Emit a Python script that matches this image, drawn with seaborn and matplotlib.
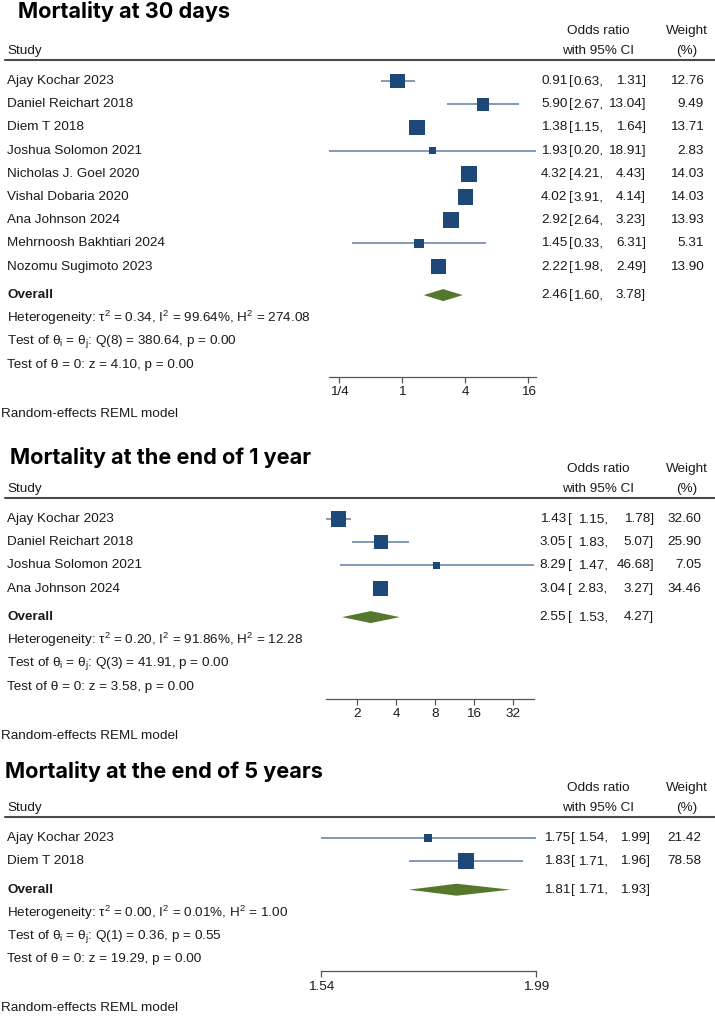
import numpy as np
import pandas as pd
import matplotlib
matplotlib.use("Agg")
import matplotlib.pyplot as plt
import seaborn as sns

# DATA
# panel 1 - mortality at 30 days
p1_studies = ["Ajay Kochar 2023", "Daniel Reichart 2018", "Diem T 2018", "Joshua Solomon 2021",
              "Nicholas J. Goel 2020", "Vishal Dobaria 2020", "Ana Johnson 2024",
              "Mehrnoosh Bakhtiari 2024", "Nozomu Sugimoto 2023"]
p1_or = [0.91, 5.90, 1.38, 1.93, 4.32, 4.02, 2.92, 1.45, 2.22]
p1_lo = [0.63, 2.67, 1.15, 0.20, 4.21, 3.91, 2.64, 0.33, 1.98]
p1_hi = [1.31, 13.04, 1.64, 18.91, 4.43, 4.14, 3.23, 6.31, 2.49]
p1_w = [12.76, 9.49, 13.71, 2.83, 14.03, 14.03, 13.93, 5.31, 13.90]
p1_overall = [2.46, 1.60, 3.78]
p1_stats = [0.34, 99.64, 274.08, 8, 380.64, 0.00, 4.10, 0.00]
p1_ticks = [0.25, 1, 4, 16]
p1_ticklabels = ["1/4", "1", "4", "16"]

# panel 2 - mortality at 1 year
p2_studies = ["Ajay Kochar 2023", "Daniel Reichart 2018", "Joshua Solomon 2021", "Ana Johnson 2024"]
p2_or = [1.43, 3.05, 8.29, 3.04]
p2_lo = [1.15, 1.83, 1.47, 2.83]
p2_hi = [1.78, 5.07, 46.68, 3.27]
p2_w = [32.60, 25.90, 7.05, 34.46]
p2_overall = [2.55, 1.53, 4.27]
p2_stats = [0.20, 91.86, 12.28, 3, 41.91, 0.00, 3.58, 0.00]
p2_ticks = [2, 4, 8, 16, 32]
p2_ticklabels = ["2", "4", "8", "16", "32"]

# panel 3 - mortality at 5 years
p3_studies = ["Ajay Kochar 2023", "Diem T 2018"]
p3_or = [1.75, 1.83]
p3_lo = [1.54, 1.71]
p3_hi = [1.99, 1.96]
p3_w = [21.42, 78.58]
p3_overall = [1.81, 1.71, 1.93]
p3_stats = [0.00, 0.01, 1.00, 1, 0.36, 0.55, 19.29, 0.00]
p3_ticks = [1.54, 1.99]
p3_ticklabels = ["1.54", "1.99"]

titles = ["Mortality at 30 days", "Mortality at the end of 1 year", "Mortality at the end of 5 years"]

# LAYOUT (pixels)
W, H = 715, 1016
title_pos = [(18, 12), (10, 457), (5, 772)]
line_ys = [60, 498, 817]
plot_x = [(329, 536), (326, 534), (321, 536)]
# right edges of: estimate, "[" left, lower, upper, weight
cols = [(567.5, 568.5, 603.5, 646, 703.5),
        (566, 568, 608, 654, 701.5),
        (570, 571.5, 608.5, 650, 701)]
ROW = 23.2
FS = 9.7
TXT = "#1a1a1a"
SQ = "#1d4878"
CI = "#5b80a6"
DIA = "#56782c"

sns.set_theme(style="white")
plt.rcParams["font.family"] = ["Liberation Sans", "DejaVu Sans"]

fig = plt.figure(figsize=(W / 100, H / 100), dpi=100)
tax = fig.add_axes([0, 0, 1, 1])
tax.set_xlim(0, W)
tax.set_ylim(H, 0)
tax.axis("off")

panels = [
    (p1_studies, p1_or, p1_lo, p1_hi, p1_w, p1_overall, p1_stats, p1_ticks, p1_ticklabels),
    (p2_studies, p2_or, p2_lo, p2_hi, p2_w, p2_overall, p2_stats, p2_ticks, p2_ticklabels),
    (p3_studies, p3_or, p3_lo, p3_hi, p3_w, p3_overall, p3_stats, p3_ticks, p3_ticklabels),
]


def ci_text(y, e, l, h, c):
    tax.text(c[0], y, f"{e:.2f}", fontsize=FS, ha="right", va="center", color=TXT)
    tax.text(c[1], y, "[", fontsize=FS, ha="left", va="center", color=TXT)
    tax.text(c[2], y, f"{l:.2f},", fontsize=FS, ha="right", va="center", color=TXT)
    tax.text(c[3], y, f"{h:.2f}]", fontsize=FS, ha="right", va="center", color=TXT)


for k, (studies, est, lo, hi, w, ov, st, ticks, tlabels) in enumerate(panels):
    ly = line_ys[k]
    n = len(studies)
    rows = ly + 21 + ROW * np.arange(n)
    ov_y = rows[-1] + 28.5
    stat_ys = ov_y + ROW * np.arange(1, 4)
    axis_y = stat_ys[-1] + 12
    x0, x1 = plot_x[k]
    c = cols[k]

    # title + header
    tx, ty = title_pos[k]
    tax.text(tx, ty, titles[k], fontsize=15.6, fontweight="bold", family=["Inter", "Roboto", "DejaVu Sans"],
             color="black", va="center", ha="left")
    tax.text(598, ly - 29, "Odds ratio", fontsize=FS, ha="center", va="center", color=TXT)
    tax.text(598, ly - 9, "with 95% CI", fontsize=FS, ha="center", va="center", color=TXT)
    tax.text(687, ly - 29, "Weight", fontsize=FS, ha="center", va="center", color=TXT)
    tax.text(687, ly - 9, "(%)", fontsize=FS, ha="center", va="center", color=TXT)
    tax.text(7, ly - 9, "Study", fontsize=FS, ha="left", va="center", color=TXT)
    tax.plot([5, W], [ly, ly], color="#4a4a4a", lw=1.5)

    # study rows
    for i in range(n):
        tax.text(7, rows[i], studies[i], fontsize=FS, ha="left", va="center", color=TXT)
        ci_text(rows[i], est[i], lo[i], hi[i], c)
        tax.text(c[4], rows[i], f"{w[i]:.2f}", fontsize=FS, ha="right", va="center", color=TXT)

    tax.text(7, ov_y, "Overall", fontsize=FS, fontweight="bold", ha="left", va="center", color=TXT)
    ci_text(ov_y, ov[0], ov[1], ov[2], c)

    tau2, i2, h2, df_q, q, pq, z, pz = st
    lines = [
        rf"Heterogeneity: τ$^\mathregular{{2}}$ = {tau2:.2f}, I$^\mathregular{{2}}$ = {i2:.2f}%, "
        rf"H$^\mathregular{{2}}$ = {h2:.2f}",
        rf"Test of θ$_\mathregular{{i}}$ = θ$_\mathregular{{j}}$: Q({df_q}) = {q:.2f}, p = {pq:.2f}",
        f"Test of θ = 0: z = {z:.2f}, p = {pz:.2f}",
    ]
    for y, s in zip(stat_ys, lines):
        tax.text(7, y, s, fontsize=FS, ha="left", va="center", color=TXT)
    tax.text(1, axis_y + 37, "Random-effects REML model", fontsize=FS, ha="left", va="center", color=TXT)

    # plot region
    ax = fig.add_axes([x0 / W, 1 - axis_y / H, (x1 - x0) / W, (axis_y - ly) / H])
    ax.set_ylim(axis_y, ly)
    ax.set_xscale("log", base=2)
    ax.set_xlim(min(lo), max(hi))
    ax.patch.set_alpha(0)
    for sp in ["top", "left", "right"]:
        ax.spines[sp].set_visible(False)
    ax.spines["bottom"].set_color("#555555")
    ax.spines["bottom"].set_linewidth(0.9)

    ax.hlines(rows, lo, hi, color=CI, lw=1.1, clip_on=False, zorder=2)
    df = pd.DataFrame({"est": est, "row": rows, "w": w})
    wmax = max(w)
    sns.scatterplot(data=df, x="est", y="row", size="w", sizes=(0, 11.3 ** 2), size_norm=(0, wmax),
                    marker="s", color=SQ, linewidth=0, legend=False, ax=ax, zorder=3, clip_on=False)
    dh = 6
    ax.fill([ov[1], ov[0], ov[2], ov[0]], [ov_y, ov_y - dh, ov_y, ov_y + dh],
            color=DIA, lw=0, zorder=3, clip_on=False)

    ax.set_xticks(ticks)
    ax.set_xticklabels(tlabels)
    ax.minorticks_off()
    ax.tick_params(axis="x", direction="out", length=4, width=0.9, color="#555555",
                   labelsize=FS, labelcolor=TXT, pad=3, bottom=True)
    ax.set_yticks([])
    ax.set_xlabel("")
    ax.set_ylabel("")

fig.savefig("out.png", dpi=100)
